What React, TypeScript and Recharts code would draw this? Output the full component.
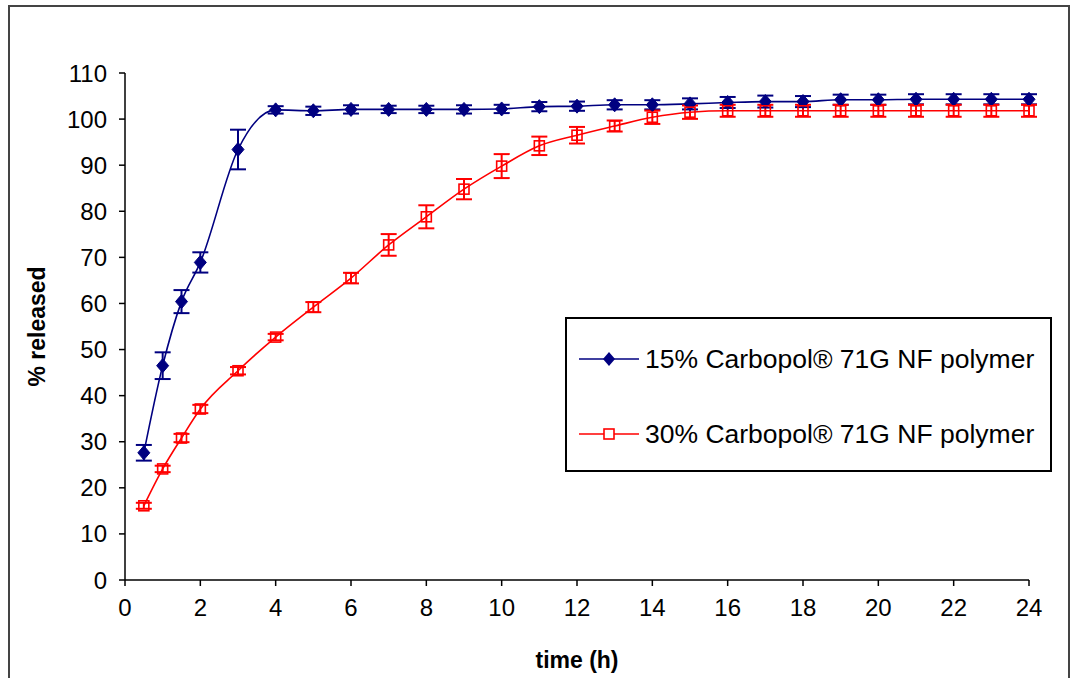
import React from 'react';
import { LineChart, Line, XAxis, YAxis, ErrorBar, Legend } from 'recharts';

const times = [0.5, 1, 1.5, 2, 3, 4, 5, 6, 7, 8, 9, 10, 11, 12, 13, 14, 15, 16, 17, 18, 19, 20, 21, 22, 23, 24];
const released15 = [27.6, 46.5, 60.4, 68.9, 93.4, 102.0, 101.8, 102.1, 102.1, 102.1, 102.1, 102.2, 102.7, 102.8, 103.1, 103.1, 103.3, 103.6, 103.8, 103.8, 104.2, 104.2, 104.3, 104.3, 104.3, 104.3];
const err15 = [1.7, 2.9, 2.5, 2.2, 4.3, 0.8, 0.9, 0.9, 0.8, 0.8, 0.9, 0.9, 1.0, 1.0, 1.0, 1.0, 1.2, 1.2, 1.3, 1.2, 1.1, 1.1, 1.1, 1.1, 1.1, 1.1];
const released30 = [16.1, 24.1, 30.8, 37.1, 45.4, 52.7, 59.2, 65.5, 72.7, 78.8, 84.8, 89.8, 94.2, 96.5, 98.5, 100.4, 101.5, 101.8, 101.8, 101.8, 101.8, 101.8, 101.8, 101.8, 101.8, 101.8];
const err30 = [0.65, 0.7, 0.9, 0.9, 0.8, 0.7, 1.1, 1.15, 2.35, 2.5, 2.2, 2.6, 2.0, 1.8, 1.2, 1.45, 1.45, 1.3, 1.3, 1.3, 1.3, 1.3, 1.3, 1.3, 1.3, 1.3];
const xTicks = [0, 2, 4, 6, 8, 10, 12, 14, 16, 18, 20, 22, 24];
const yTicks = [0, 10, 20, 30, 40, 50, 60, 70, 80, 90, 100, 110];
const seriesNames = ['15% Carbopol® 71G NF polymer', '30% Carbopol® 71G NF polymer'];

const data15 = times.map((t, i) => ({ t, v: released15[i], e: err15[i] }));
const data30 = times.map((t, i) => ({ t, v: released30[i], e: err30[i] }));

const BLUE = '#000080';
const RED = '#FF0000';
const FONT = '"Liberation Sans", Arial, sans-serif';

const Diamond = (props: any) => {
  const { cx, cy, index } = props;
  if (cx == null || cy == null) return <g key={`d${index}`} />;
  return <path key={`d${index}`} d={`M${cx},${cy - 7} L${cx + 6},${cy} L${cx},${cy + 7} L${cx - 6},${cy} Z`} fill={BLUE} stroke={BLUE} strokeWidth={1} />;
};

const Square = (props: any) => {
  const { cx, cy, index } = props;
  if (cx == null || cy == null) return <g key={`s${index}`} />;
  return <rect key={`s${index}`} x={cx - 5} y={cy - 5} width={10} height={10} fill="none" stroke={RED} strokeWidth={1.6} />;
};

const LegendBox = () => (
  <div style={{ width: 483, height: 151, border: '2px solid #000', background: '#fff', fontFamily: FONT, fontSize: 26.5, color: '#000', position: 'relative', textAlign: 'left' }}>
    {[0, 1].map((i) => (
      <div key={i} style={{ position: 'absolute', left: 0, top: i === 0 ? 25 : 100, height: 30, display: 'flex', alignItems: 'center' }}>
        <svg width={78} height={30} style={{ display: 'block' }}>
          <line x1={12} y1={15} x2={72} y2={15} stroke={i === 0 ? BLUE : RED} strokeWidth={1.6} />
          {i === 0 ? (
            <path d="M42,8 L48,15 L42,22 L36,15 Z" fill={BLUE} />
          ) : (
            <rect x={37} y={10} width={10} height={10} fill="#fff" stroke={RED} strokeWidth={1.6} />
          )}
        </svg>
        <span style={{ whiteSpace: 'nowrap', lineHeight: '30px' }}>{seriesNames[i]}</span>
      </div>
    ))}
  </div>
);

const YTitle = (props: any) => {
  const vb = props.viewBox || { x: 0, y: 66, width: 115, height: 507 };
  const x = vb.x + 27;
  const y = vb.y + vb.height / 2;
  return (
    <text x={x} y={y} transform={`rotate(-90, ${x}, ${y})`} textAnchor="middle" dominantBaseline="central" fontFamily={FONT} fontWeight="bold" fontSize={23} fill="#000">
      % released
    </text>
  );
};

const XTitle = (props: any) => {
  const vb = props.viewBox || { x: 115, y: 573, width: 904, height: 60 };
  return (
    <text x={vb.x + vb.width / 2} y={vb.y + 88} textAnchor="middle" fontFamily={FONT} fontWeight="bold" fontSize={23} fill="#000">
      time (h)
    </text>
  );
};

export default function App() {
  return (
    <div style={{ position: 'absolute', left: 8, top: 5, width: 1058, height: 680, border: '2px solid #444', background: '#fff' }}>
      <LineChart width={1058} height={680} margin={{ top: 66, right: 39, left: 0, bottom: 47 }}>
        <XAxis
          dataKey="t"
          type="number"
          domain={[0, 24]}
          ticks={xTicks}
          allowDuplicatedCategory={false}
          stroke="#000"
          strokeWidth={1.5}
          tickSize={6}
          tickMargin={13}
          height={60}
          tick={{ fill: '#000', fontFamily: FONT, fontSize: 24 }}
          label={<XTitle />}
        />
        <YAxis
          type="number"
          domain={[0, 110]}
          ticks={yTicks}
          stroke="#000"
          strokeWidth={1.5}
          tickSize={6}
          tickMargin={12}
          width={115}
          tick={{ fill: '#000', fontFamily: FONT, fontSize: 24 }}
          label={<YTitle />}
        />
        <Legend
          layout="horizontal"
          verticalAlign="middle"
          align="center"
          content={<LegendBox />}
          wrapperStyle={{ position: 'absolute', left: 555, top: 310, width: 487, height: 155 }}
        />
        <Line data={data15} dataKey="v" name={seriesNames[0]} type="monotone" stroke={BLUE} strokeWidth={1.6} dot={Diamond} isAnimationActive={false}>
          <ErrorBar dataKey="e" direction="y" width={8} stroke={BLUE} strokeWidth={2} />
        </Line>
        <Line data={data30} dataKey="v" name={seriesNames[1]} type="monotone" stroke={RED} strokeWidth={1.6} dot={Square} isAnimationActive={false}>
          <ErrorBar dataKey="e" direction="y" width={8} stroke={RED} strokeWidth={2} />
        </Line>
      </LineChart>
    </div>
  );
}
